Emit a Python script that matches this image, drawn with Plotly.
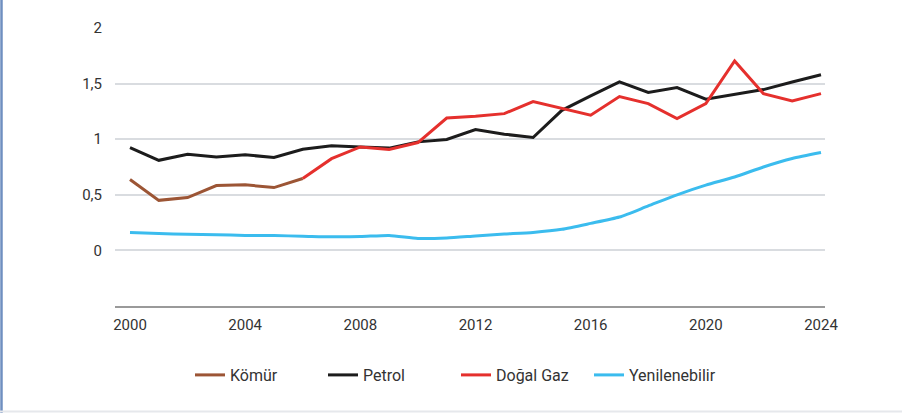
import plotly.graph_objects as go

years = list(range(2000, 2025))

komur_years = list(range(2000, 2007))
komur = [0.638, 0.45, 0.475, 0.583, 0.59, 0.565, 0.647]

petrol = [0.925, 0.81, 0.865, 0.84, 0.86, 0.835, 0.91, 0.94, 0.93, 0.92,
          0.976, 0.997, 1.087, 1.045, 1.015, 1.26, 1.39, 1.515, 1.42, 1.464,
          1.36, 1.40, 1.446, 1.515, 1.58]

gaz_years = list(range(2006, 2025))
gaz = [0.647, 0.825, 0.93, 0.907, 0.97, 1.19, 1.207, 1.23, 1.338, 1.28,
       1.216, 1.383, 1.32, 1.186, 1.32, 1.704, 1.41, 1.344, 1.41]

yenilenebilir = [0.16, 0.152, 0.145, 0.14, 0.135, 0.133, 0.128, 0.122, 0.124, 0.135,
                 0.108, 0.112, 0.13, 0.147, 0.162, 0.19, 0.243, 0.30, 0.40, 0.50,
                 0.587, 0.66, 0.75, 0.826, 0.88]

x_ticks = [2000, 2004, 2008, 2012, 2016, 2020, 2024]
y_ticks = [0, 0.5, 1, 1.5, 2]
y_ticktext = ["0", "0,5", "1", "1,5", "2"]

names = ["Kömür", "Petrol", "Doğal Gaz", "Yenilenebilir"]
colors = ["#9C5535", "#1c1c1c", "#E5302D", "#3BBCEE"]

fig = go.Figure()
fig.add_trace(go.Scatter(x=komur_years, y=komur, name=names[0], mode="lines",
                         line=dict(color=colors[0], width=3)))
fig.add_trace(go.Scatter(x=years, y=petrol, name=names[1], mode="lines",
                         line=dict(color=colors[1], width=3)))
fig.add_trace(go.Scatter(x=gaz_years, y=gaz, name=names[2], mode="lines",
                         line=dict(color=colors[2], width=3)))
fig.add_trace(go.Scatter(x=years, y=yenilenebilir, name=names[3], mode="lines",
                         line=dict(color=colors[3], width=3, shape="spline", smoothing=0.6)))

W, H = 902, 413
ml, mr, mt, mb = 115, 77, 28, 107
pw, ph = W - ml - mr, H - mt - mb

font = "Roboto, 'Open Sans', sans-serif"
fig.update_layout(
    width=W, height=H,
    margin=dict(l=ml, r=mr, t=mt, b=mb, autoexpand=False),
    paper_bgcolor="white", plot_bgcolor="white",
    font=dict(family=font, size=15, color="#333333"),
    showlegend=True,
    legend=dict(orientation="h", x=(190 - ml) / pw, xanchor="left",
                y=-(375 - (mt + ph)) / ph, yanchor="middle",
                font=dict(size=16, color="#333333"),
                entrywidth=88, entrywidthmode="pixels",
                traceorder="normal"),
    xaxis=dict(range=[1999.479, 2024.139], tickvals=x_ticks,
               ticktext=[str(v) for v in x_ticks], automargin=False,
               showgrid=False, zeroline=False, showline=True,
               linecolor="#9a9a9a", linewidth=2, ticks="",
               ticklabelstandoff=4, tickfont=dict(size=15, color="#333333")),
    yaxis=dict(range=[-0.5, 2], tickvals=y_ticks, ticktext=y_ticktext,
               automargin=False,
               showgrid=True, gridcolor="#d9dce0", gridwidth=1.5,
               zeroline=False, showline=False, ticks="",
               ticklabelstandoff=12, tickfont=dict(size=15, color="#333333")),
)

# frame: left blue border and faint bottom line
fig.add_shape(type="line", xref="paper", yref="paper",
              x0=(1.5 - ml) / pw, x1=(1.5 - ml) / pw,
              y0=-mb / ph, y1=(ph + mt) / ph,
              line=dict(color="#6f8fc0", width=2.5))
fig.add_shape(type="line", xref="paper", yref="paper",
              x0=-ml / pw, x1=(W - ml) / pw,
              y0=-(mb - 1.5) / ph, y1=-(mb - 1.5) / ph,
              line=dict(color="#e6e8ec", width=2))

fig.write_html(
    "out.html",
    config={"displayModeBar": False},
    post_script="document.body.style.margin='0';document.body.style.overflow='hidden';",
)
